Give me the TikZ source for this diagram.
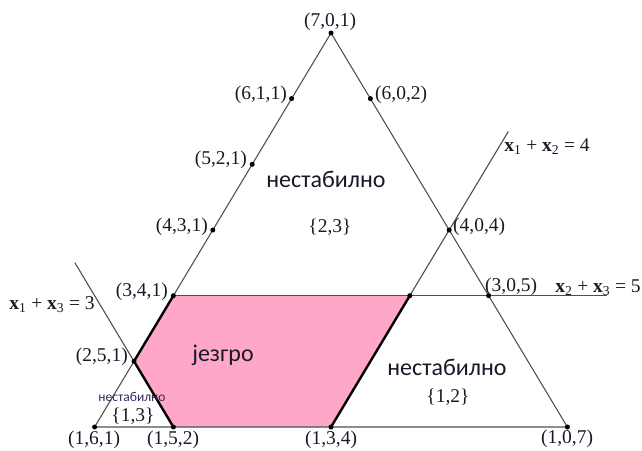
\documentclass[tikz,border=0pt]{standalone}
\usepackage{fontspec}
\setmainfont{Liberation Serif}
\newfontfamily\cyr{Carlito}
\usetikzlibrary{calc}
\definecolor{coreink}{RGB}{255,167,200}
\definecolor{txt}{RGB}{25,25,40}
\definecolor{ln}{RGB}{80,80,80}
\begin{document}
\begin{tikzpicture}[x=1pt,y=-1pt,
  thinline/.style={draw=ln,line width=1.1pt},
  thickline/.style={draw=black,line width=2.4pt,line cap=round,line join=round},
  pt/.style={circle,fill=black,inner sep=0pt,minimum size=5pt},
  lab/.style={text=txt,font=\fontsize{19.5}{21}\selectfont,inner sep=1pt},
  cyrbig/.style={text=txt,font=\cyr\fontsize{24}{26}\selectfont,inner sep=0pt},
  cyrsmall/.style={text={rgb,255:red,60;green,40;blue,90},font=\cyr\fontsize{13.5}{15}\selectfont,inner sep=0pt}]
\useasboundingbox (0,0) rectangle (642,450);
% vertices
\coordinate (p701) at (331,33);
\coordinate (p611) at (291.6,98.6);
\coordinate (p602) at (370.4,98.6);
\coordinate (p521) at (252.2,164.3);
\coordinate (p431) at (212.8,230);
\coordinate (p404) at (449.2,230);
\coordinate (p341) at (173.4,295.7);
\coordinate (p314) at (409.8,295.7);
\coordinate (p305) at (488.6,295.7);
\coordinate (p251) at (134,361.3);
\coordinate (p161) at (94.6,427);
\coordinate (p152) at (173.4,427);
\coordinate (p134) at (331,427);
\coordinate (p107) at (567.4,427);
\coordinate (l13) at ($(p152)!2.5!(p251)$);
\coordinate (l12) at ($(p134)!1.5!(p404)$);
\coordinate (l23) at (607,295.7);
% core region
\fill[coreink] (p341) -- (p314) -- (p134) -- (p152) -- (p251) -- cycle;
% thin lines
\draw[thinline] (p161) -- (p701) -- (p107) -- cycle;
\draw[thinline] (l13) -- (p152);
\draw[thinline] (l12) -- (p134);
\draw[thinline] (p341) -- (l23);
% thick boundary
\draw[thickline] (p341) -- (p251) -- (p152);
\draw[thickline] (p134) -- (p314);
% points
\foreach \p in {p701,p611,p602,p521,p431,p404,p341,p314,p305,p251,p161,p152,p134,p107}
  \node[pt] (d\p) at (\p) {};
% labels
\node[lab] (t701) at (330,22) {(7,0,1)};
\node[lab,anchor=east] (t611) at (288,95) {(6,1,1)};
\node[lab,anchor=west] (t602) at (374,95) {(6,0,2)};
\node[lab,anchor=east] (t521) at (248,160) {(5,2,1)};
\node[lab,anchor=east] (t431) at (209,227) {(4,3,1)};
\node[lab,anchor=west] (t404) at (452,227) {(4,0,4)};
\node[lab,anchor=west] (t305) at (484,287) {(3,0,5)};
\node[lab,anchor=east] (t341) at (169,292) {(3,4,1)};
\node[lab,anchor=east] (t251) at (129,357) {(2,5,1)};
\node[lab] (t161) at (94,440) {(1,6,1)};
\node[lab] (t152) at (173,440) {(1,5,2)};
\node[lab] (t134) at (331,440) {(1,3,4)};
\node[lab] (t107) at (567,439) {(1,0,7)};
\node[lab] (f13) at (52,305) {\textbf{x}\textsubscript{1} + \textbf{x}\textsubscript{3} = 3};
\node[lab] (f12) at (547,147) {\textbf{x}\textsubscript{1} + \textbf{x}\textsubscript{2} = 4};
\node[lab] (f23) at (598,288) {\textbf{x}\textsubscript{2} + \textbf{x}\textsubscript{3} = 5};
% region texts
\node[cyrbig] (n23) at (326,179) {нестабилно};
\node[lab] (s23) at (330,227) {\{2,3\}};
\node[cyrbig] (n12) at (447,367) {нестабилно};
\node[lab] (s12) at (448,397) {\{1,2\}};
\node[cyrbig] (core) at (223,355) {језгро};
\node[cyrsmall] (n13) at (132,397) {нестабилно};
\node[lab] (s13) at (133,416) {\{1,3\}};
\end{tikzpicture}
\end{document}
